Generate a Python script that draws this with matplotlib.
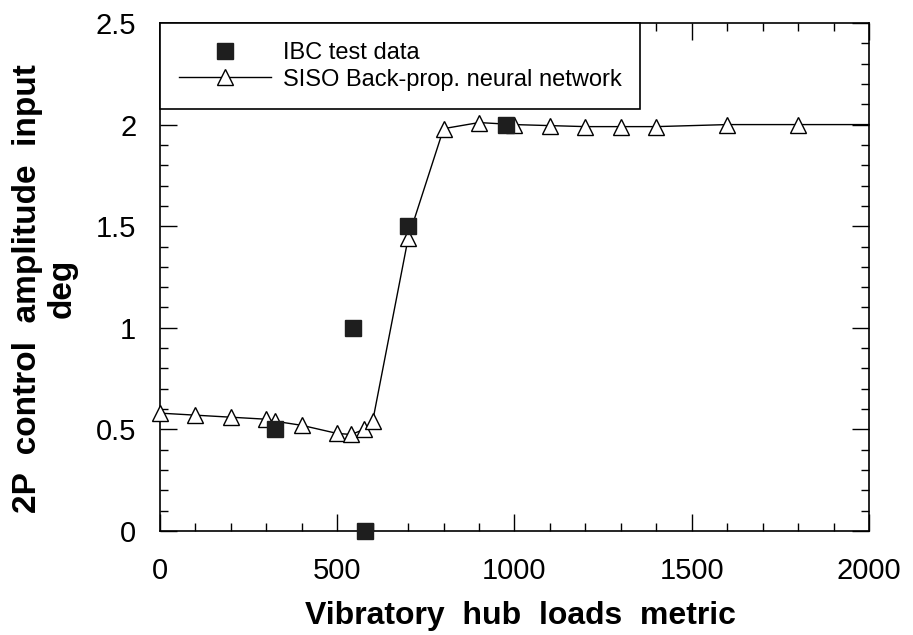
import numpy as np
import matplotlib
matplotlib.use("Agg")
import matplotlib.pyplot as plt
from matplotlib.ticker import MultipleLocator

plt.rcParams['font.family'] = ['Liberation Sans', 'DejaVu Sans']

# IBC test data
ibc_x = [325, 545, 577, 700, 975]
ibc_y = [0.50, 1.00, 0.00, 1.50, 2.00]

# SISO back-prop neural network
nn_x = [0, 100, 200, 300, 325, 400, 500, 540, 575, 600, 700, 800, 900,
        1000, 1100, 1200, 1300, 1400, 1600, 1800, 2000]
nn_y = [0.58, 0.57, 0.56, 0.55, 0.54, 0.52, 0.48, 0.475, 0.50, 0.54, 1.44,
        1.98, 2.01, 2.00, 1.995, 1.99, 1.99, 1.99, 2.00, 2.00, 2.00]

fig = plt.figure(figsize=(9.13, 6.35), dpi=100)
ax = fig.add_axes([0.1752, 0.1638, 0.7766, 0.8])

ax.plot(nn_x, nn_y, color='black', lw=1.0, marker='^', markersize=12,
        markerfacecolor='white', markeredgecolor='black', markeredgewidth=1.0,
        markevery=list(range(len(nn_x) - 1)), clip_on=False,
        label='SISO Back-prop. neural network', zorder=3)
ax.plot(ibc_x, ibc_y, linestyle='none', marker='s', markersize=12,
        color='#1e1e1e', label='IBC test data', zorder=4, clip_on=False)

ax.set_xlim(0, 2000)
ax.set_ylim(0, 2.5)
ax.xaxis.set_major_locator(MultipleLocator(500))
ax.xaxis.set_minor_locator(MultipleLocator(100))
ax.yaxis.set_minor_locator(MultipleLocator(0.1))
ax.set_yticks([0, 0.5, 1, 1.5, 2, 2.5])
ax.set_yticklabels(['0', '0.5', '1', '1.5', '2', '2.5'])

ax.tick_params(which='both', direction='in', top=True, right=True,
               labelsize=21, width=1.0)
ax.tick_params(axis='x', which='major', length=12, pad=19)
ax.tick_params(axis='y', which='major', length=12, pad=17)
ax.tick_params(which='minor', length=6)
for s in ax.spines.values():
    s.set_linewidth(1.2)

fig.text(0.5695, 0.0173, 'Vibratory  hub  loads  metric', fontsize=23,
         fontweight='bold', ha='center', va='baseline')
fig.text(0.0493, 0.546, '2P  control  amplitude  input\ndeg', fontsize=24,
         fontweight='bold', ha='center', va='center', rotation=90,
         multialignment='center', linespacing=1.15)

handles, labels = ax.get_legend_handles_labels()
leg = ax.legend(handles[::-1], labels[::-1], loc='upper left',
                bbox_to_anchor=(0.0, 1.0), fontsize=17, frameon=True,
                fancybox=False, edgecolor='black', framealpha=1,
                borderaxespad=0.0, handlelength=3.9, handletextpad=0.5,
                borderpad=0.8, labelspacing=0.2)
leg.get_frame().set_linewidth(1.2)

fig.savefig('out.png', dpi=100)
